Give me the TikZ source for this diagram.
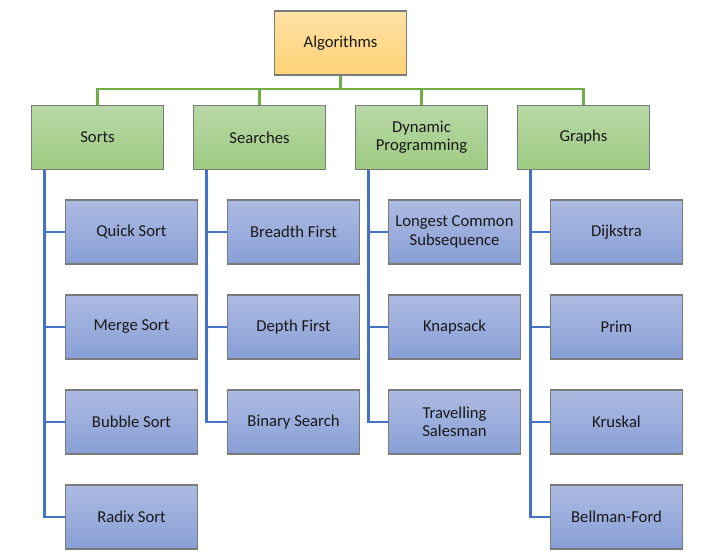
\documentclass[tikz,border=0pt]{standalone}
\usepackage{fontspec}
\setmainfont{Carlito}
\definecolor{rootTop}{HTML}{FFE2A6}
\definecolor{rootBot}{HTML}{FFD276}
\definecolor{catTop}{HTML}{B8D8A6}
\definecolor{catBot}{HTML}{9ECB82}
\definecolor{leafTop}{HTML}{ADBBE2}
\definecolor{leafBot}{HTML}{889FD6}
\definecolor{edgeGray}{HTML}{7A7A7A}
\definecolor{greenLine}{HTML}{70AD47}
\definecolor{blueLine}{HTML}{4472C4}
\begin{document}
\begin{tikzpicture}[x=0.75pt, y=-0.75pt,
  box/.style={draw=edgeGray, line width=1.3pt, minimum width=99pt, minimum height=48pt,
    inner sep=0pt, align=center, text=black!90, font=\fontsize{12.5}{13.7}\selectfont},
  rootbox/.style={box, top color=rootTop, bottom color=rootBot},
  catbox/.style={box, top color=catTop, bottom color=catBot},
  leafbox/.style={box, top color=leafTop, bottom color=leafBot},
  green link/.style={draw=greenLine, line width=2.2pt},
  blue link/.style={draw=blueLine, line width=2.2pt}]

  \useasboundingbox (0,0) rectangle (717,560);

  % wurzel
  \node [rootbox] (root) at (340.5,43) {Algorithms};
  \coordinate (bar) at (340.5,89);

  % kategorien
  \foreach \m/\l/\x in {sorts/Sorts/97.5, searches/Searches/259.5,
                         dynamic/{Dynamic\\Programming}/421.5, graphs/Graphs/583.5}
      \node [catbox] (\m) at (\x,137.5) {\l};

  % blaetter
  \foreach \m/\l [count=\y] in {quick/Quick Sort, merge/Merge Sort, bubble/Bubble Sort, radix/Radix Sort}
      \node [leafbox] (\m) at (131.5,137+95*\y) {\l};
  \foreach \m/\l [count=\y] in {breadth/Breadth First, depth/Depth First, binary/Binary Search}
      \node [leafbox] (\m) at (293.5,137+95*\y) {\l};
  \foreach \m/\l [count=\y] in {lcs/{Longest Common\\Subsequence}, knapsack/Knapsack, tsp/{Travelling\\Salesman}}
      \node [leafbox] (\m) at (454.5,137+95*\y) {\l};
  \foreach \m/\l [count=\y] in {dijkstra/Dijkstra, prim/Prim, kruskal/Kruskal, bellman/Bellman-Ford}
      \node [leafbox] (\m) at (616.5,137+95*\y) {\l};

  % verbindungen
  \draw [green link] (root.south) -- (bar);
  \foreach \n in {sorts,searches,dynamic,graphs}
      \draw [green link] (bar) -| (\n.north);

  \foreach \n in {quick,merge,bubble,radix}
      \draw [blue link] ([xshift=10.5pt]sorts.south west) |- (\n.west);
  \foreach \n in {breadth,depth,binary}
      \draw [blue link] ([xshift=10.5pt]searches.south west) |- (\n.west);
  \foreach \n in {lcs,knapsack,tsp}
      \draw [blue link] ([xshift=10.5pt]dynamic.south west) |- (\n.west);
  \foreach \n in {dijkstra,prim,kruskal,bellman}
      \draw [blue link] ([xshift=10.5pt]graphs.south west) |- (\n.west);

\end{tikzpicture}
\end{document}
